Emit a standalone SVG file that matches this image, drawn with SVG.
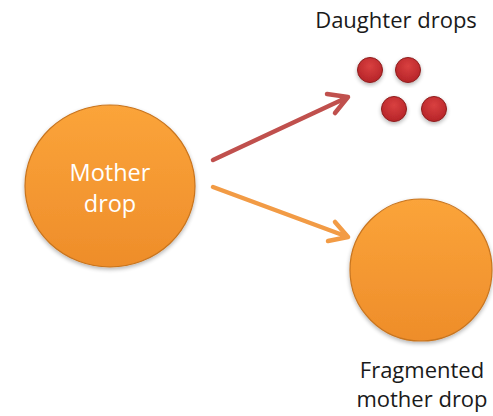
<svg xmlns="http://www.w3.org/2000/svg" width="493" height="416" viewBox="0 0 493 416">
<style>
.lbl{font-family:"Open Sans","Liberation Sans",sans-serif;font-size:22px;fill:#1a1a1a;text-anchor:middle}
.in{font-family:"Open Sans","Liberation Sans",sans-serif;font-size:23.5px;fill:#ffffff;text-anchor:middle}
.big{fill:url(#og);stroke:#c8741e;stroke-width:1.2}
.sm{fill:url(#rg);stroke:#8e1c1c;stroke-width:1}
.arr{fill:none;stroke-width:4.5;stroke-linecap:round;stroke-linejoin:round}
</style>
<defs>
<linearGradient id="og" x1="0" y1="0" x2="0" y2="1">
<stop offset="0" stop-color="#fba43a"/>
<stop offset="1" stop-color="#ee8d2a"/>
</linearGradient>
<radialGradient id="rg" cx="0.5" cy="0.35" r="0.6">
<stop offset="0" stop-color="#d94040"/>
<stop offset="1" stop-color="#b8262a"/>
</radialGradient>
<filter id="sh" x="-20%" y="-20%" width="140%" height="140%">
<feGaussianBlur in="SourceAlpha" stdDeviation="2"/>
<feOffset dx="0" dy="2" result="b"/>
<feComponentTransfer><feFuncA type="linear" slope="0.3"/></feComponentTransfer>
<feMerge><feMergeNode/><feMergeNode in="SourceGraphic"/></feMerge>
</filter>
</defs>
<g id="connectors">
<path class="arr" stroke="#c0504d" d="M213 160 L348 97 M327 94 L348 97 L335 113"/>
<path class="arr" stroke="#f29b45" d="M213 187 L348 237 M335 222 L348 237 L328 241"/>
</g>
<g id="mother">
<ellipse class="big" cx="110" cy="186" rx="85" ry="81" filter="url(#sh)"/>
<text class="in" x="110" y="181">Mother</text>
<text class="in" x="110" y="212">drop</text>
</g>
<g id="daughters">
<circle class="sm" cx="370" cy="70" r="12.5" filter="url(#sh)"/>
<circle class="sm" cx="408" cy="70" r="12.5" filter="url(#sh)"/>
<circle class="sm" cx="394" cy="109" r="12.5" filter="url(#sh)"/>
<circle class="sm" cx="434" cy="109" r="12.5" filter="url(#sh)"/>
<text class="lbl" x="396" y="28">Daughter drops</text>
</g>
<g id="fragmented">
<circle class="big" cx="421" cy="270" r="71" filter="url(#sh)"/>
<text class="lbl" x="422" y="378">Fragmented</text>
<text class="lbl" x="422" y="407">mother drop</text>
</g>
</svg>
